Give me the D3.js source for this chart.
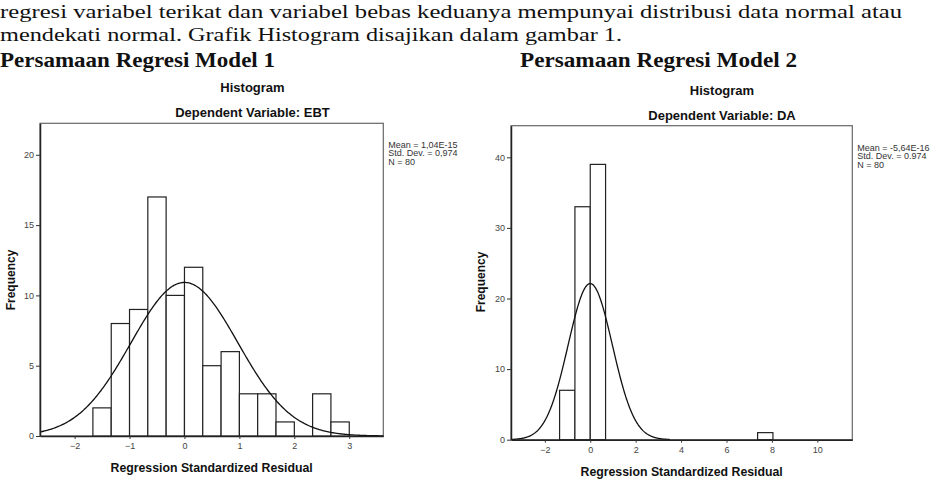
<!DOCTYPE html>
<html>
<head>
<meta charset="UTF-8">
<script src="https://d3js.org/d3.v7.min.js"></script>
<title>Histogram</title>
<style>
  body{margin:0;background:#fff;}
  svg{display:block;}
  .tick text{font-family:"Liberation Sans",Arial,sans-serif;font-size:9px;fill:#444;}
  .tick line{stroke:#333;}
  .domain{stroke:#222;}
</style>
</head>
<body>
<div id="container"></div>
<script>
// page text
var textLines = [
  "regresi variabel terikat dan variabel bebas keduanya mempunyai distribusi data normal atau",
  "mendekati normal. Grafik Histogram disajikan dalam gambar 1."
]
var headings = ["Persamaan Regresi Model 1", "Persamaan Regresi Model 2"]

// model 1 (EBT)
var binStart1 = [-1.667,-1.333,-1,-0.667,-0.333,0,0.333,0.667,1,1.333,1.667,2,2.333,2.667]
var counts1   = [2,8,9,17,10,12,5,6,3,3,1,0,3,1]
var binWidth1 = 1/3
var xTicks1 = [-2,-1,0,1,2,3]
var yTicks1 = [0,5,10,15,20]
var stats1 = ["Mean = 1,04E-15","Std. Dev. = 0,974","N = 80"]
var mean1 = 1.04e-15, sd1 = 0.974, n1 = 80

// model 2 (DA)
var binStart2 = [-1.35,-0.675,0,7.37]
var counts2   = [7,33,39,1]
var binWidth2 = 0.675
var xTicks2 = [-2,0,2,4,6,8,10]
var yTicks2 = [0,10,20,30,40]
var stats2 = ["Mean = -5,64E-16","Std. Dev. = 0.974","N = 80"]
var mean2 = -5.64e-16, sd2 = 0.974, n2 = 80

var width = 931, height = 482
var svg = d3.select('#container').append('svg')
  .attr('width', width).attr('height', height)

// paragraph text
var serif = '"Liberation Serif","DejaVu Serif",serif'
svg.append('text').text(textLines[0])
  .attr('x',0).attr('y',17.5).attr('font-family',serif).attr('font-size',19.5)
  .attr('textLength',902).attr('lengthAdjust','spacingAndGlyphs').attr('fill','#111')
svg.append('text').text(textLines[1])
  .attr('x',0).attr('y',40.5).attr('font-family',serif).attr('font-size',19.5)
  .attr('textLength',622).attr('lengthAdjust','spacingAndGlyphs').attr('fill','#111')
svg.append('text').text(headings[0])
  .attr('x',0).attr('y',67).attr('font-family',serif).attr('font-size',22).attr('font-weight','bold')
  .attr('textLength',275).attr('lengthAdjust','spacingAndGlyphs').attr('fill','#111')
svg.append('text').text(headings[1])
  .attr('x',520).attr('y',67).attr('font-family',serif).attr('font-size',22).attr('font-weight','bold')
  .attr('textLength',277).attr('lengthAdjust','spacingAndGlyphs').attr('fill','#111')

var sans = '"Liberation Sans",Arial,sans-serif'

function normalPdf(x, m, s){
  return Math.exp(-0.5*((x-m)/s)*((x-m)/s)) / (s*Math.sqrt(2*Math.PI))
}

function drawHist(c){
  var x = d3.scaleLinear().domain(c.xDomain).range([c.left, c.right])
  var y = d3.scaleLinear().domain(c.yDomain).range([c.bottom, c.top])
  var g = svg.append('g')

  // frame
  g.append('rect')
    .attr('x',c.left).attr('y',c.top)
    .attr('width',c.right-c.left).attr('height',c.bottom-c.top)
    .attr('fill','none').attr('stroke','#666').attr('stroke-width',1.2)

  // bars
  var bars = c.starts.map(function(s,i){ return {x0:s, x1:s+c.bw, n:c.counts[i]} })
    .filter(function(d){ return d.n > 0 })
  g.selectAll('rect.bar').data(bars).enter().append('rect')
    .attr('class','bar')
    .attr('x',function(d){ return x(d.x0) })
    .attr('y',function(d){ return y(d.n) })
    .attr('width',function(d){ return x(d.x1)-x(d.x0) })
    .attr('height',function(d){ return y(0)-y(d.n) })
    .attr('fill','#fff').attr('stroke','#222').attr('stroke-width',1.2)

  // normal curve from mean, sd and N
  var xs = d3.range(c.curve[0], c.curve[1]+0.001, (c.curve[1]-c.curve[0])/300)
  var line = d3.line()
    .x(function(d){ return x(d) })
    .y(function(d){ return y(c.n*c.bw*normalPdf(d, c.mean, c.sd)) })
  g.append('path').attr('d', line(xs))
    .attr('fill','none').attr('stroke','#111').attr('stroke-width',1.3)

  // axes
  g.append('g').attr('transform','translate(0,'+c.bottom+')')
    .call(d3.axisBottom(x).tickValues(c.xTicks).tickSize(3).tickSizeOuter(0).tickPadding(4).tickFormat(d3.format('d')))
    .call(function(a){ a.select('.domain').attr('stroke-width',1.5) })
  g.append('g').attr('transform','translate('+c.left+',0)')
    .call(d3.axisLeft(y).tickValues(c.yTicks).tickSize(4).tickSizeOuter(0).tickPadding(2).tickFormat(d3.format('d')))
    .call(function(a){ a.select('.domain').attr('stroke-width',1.5) })

  // titles
  g.append('text').text('Histogram')
    .attr('x',c.titleX).attr('y',c.titleY).attr('text-anchor','middle')
    .attr('font-family',sans).attr('font-size',13).attr('font-weight','bold').attr('fill','#111')
  g.append('text').text(c.sub)
    .attr('x',c.titleX).attr('y',c.titleY+25).attr('text-anchor','middle')
    .attr('font-family',sans).attr('font-size',13).attr('font-weight','bold').attr('fill','#111')

  // axis labels
  g.append('text').text('Regression Standardized Residual')
    .attr('x',(c.left+c.right)/2).attr('y',c.bottom+36).attr('text-anchor','middle')
    .attr('font-family',sans).attr('font-size',12.3).attr('font-weight','bold').attr('fill','#111')
  g.append('text').text('Frequency')
    .attr('transform','translate('+c.ylabX+','+c.ylabY+') rotate(-90)')
    .attr('text-anchor','middle')
    .attr('font-family',sans).attr('font-size',12).attr('font-weight','bold').attr('fill','#111')

  // stats
  g.selectAll('text.stat').data(c.stats).enter().append('text')
    .attr('class','stat').text(function(d){ return d })
    .attr('x',c.right+5).attr('y',function(d,i){ return c.statY + i*8.6 })
    .attr('font-family',sans).attr('font-size',9).attr('fill','#333')
}

drawHist({
  starts:binStart1, counts:counts1, bw:binWidth1, xTicks:xTicks1, yTicks:yTicks1,
  stats:stats1, mean:mean1, sd:sd1, n:n1, sub:'Dependent Variable: EBT',
  xDomain:[-2.63,3.62], yDomain:[0,22.24], curve:[-2.63,3.62],
  left:40, right:383.3, top:123.3, bottom:436,
  titleX:252.5, titleY:92, ylabX:15, ylabY:280, statY:147.7
})
drawHist({
  starts:binStart2, counts:counts2, bw:binWidth2, xTicks:xTicks2, yTicks:yTicks2,
  stats:stats2, mean:mean2, sd:sd2, n:n2, sub:'Dependent Variable: DA',
  xDomain:[-3.49,11.54], yDomain:[0,44.48], curve:[-3.49,3.5],
  left:511, right:852.3, top:125.7, bottom:439.7,
  titleX:722, titleY:94.5, ylabX:485, ylabY:282, statY:150.7
})
</script>
</body>
</html>
